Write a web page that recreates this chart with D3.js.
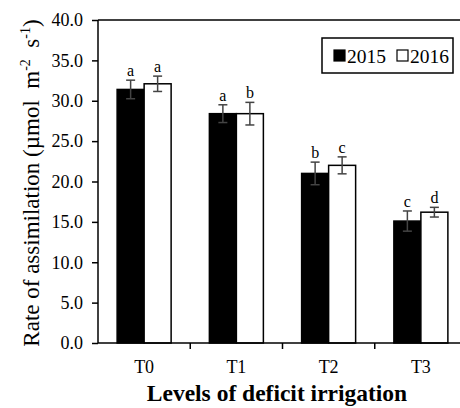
<!DOCTYPE html>
<html>
<head>
<meta charset="utf-8">
<script src="https://cdn.jsdelivr.net/npm/d3@7"></script>
<style>
  body { margin: 0; background: #fff; }
  svg text { font-family: "Liberation Serif", "Times New Roman", serif; fill: #000; }
</style>
</head>
<body>
<svg id="chart" width="460" height="408"></svg>
<script>
// data
const treatments = ["T0", "T1", "T2", "T3"];
const years = ["2015", "2016"];
const values2015 = [31.4, 28.4, 21.0, 15.1];
const values2016 = [32.1, 28.4, 22.0, 16.2];
const errors2015 = [1.15, 1.1, 1.4, 1.25];
const errors2016 = [0.95, 1.4, 1.05, 0.6];
const letters2015 = ["a", "a", "b", "c"];
const letters2016 = ["a", "b", "c", "d"];
const yTicks = [0, 5, 10, 15, 20, 25, 30, 35, 40];

const svg = d3.select("#chart");
const margin = { top: 20, left: 98 };
const plotW = 369, plotH = 323;

const g = svg.append("g").attr("transform", "translate(" + margin.left + "," + margin.top + ")");

const x = d3.scaleBand().domain(treatments).range([0, plotW]);
const xYear = d3.scaleBand().domain(years).range([0, 54]);
const y = d3.scaleLinear().domain([0, 40]).range([plotH, 0]);

// rows for each bar
const rows = [];
treatments.forEach(function (t, i) {
  rows.push({ t: t, year: "2015", v: values2015[i], e: errors2015[i], l: letters2015[i] });
  rows.push({ t: t, year: "2016", v: values2016[i], e: errors2016[i], l: letters2016[i] });
});
const barX = d => x(d.t) + (x.bandwidth() - 54) / 2 + xYear(d.year);

// frame: top line
g.append("line")
  .attr("x1", 0).attr("x2", plotW).attr("y1", 0).attr("y2", 0)
  .attr("stroke", "#000").attr("stroke-width", 1.5);

g.selectAll("rect.bar")
  .data(rows)
  .enter().append("rect")
  .attr("class", "bar")
  .attr("x", barX)
  .attr("y", d => y(d.v))
  .attr("width", xYear.bandwidth())
  .attr("height", d => plotH - y(d.v))
  .attr("fill", d => d.year === "2015" ? "#000" : "#fff")
  .attr("stroke", "#000")
  .attr("stroke-width", 1.5);

// error bars
const err = g.selectAll("g.err")
  .data(rows)
  .enter().append("g")
  .attr("class", "err")
  .attr("stroke", "#444")
  .attr("stroke-width", 1.5);
const cx = d => barX(d) + xYear.bandwidth() / 2;
err.append("line")
  .attr("x1", cx).attr("x2", cx)
  .attr("y1", d => y(d.v + d.e)).attr("y2", d => y(d.v - d.e));
err.append("line")
  .attr("x1", d => cx(d) - 4.5).attr("x2", d => cx(d) + 4.5)
  .attr("y1", d => y(d.v + d.e)).attr("y2", d => y(d.v + d.e));
err.append("line")
  .attr("x1", d => cx(d) - 4.5).attr("x2", d => cx(d) + 4.5)
  .attr("y1", d => y(d.v - d.e)).attr("y2", d => y(d.v - d.e));

// significance letters
g.selectAll("text.letter")
  .data(rows)
  .enter().append("text")
  .attr("class", "letter")
  .attr("x", cx)
  .attr("y", d => y(d.v + d.e) - 4)
  .attr("text-anchor", "middle")
  .style("font-size", "16px")
  .text(d => d.l);

// y axis
const yAxis = g.append("g")
  .call(d3.axisLeft(y).tickValues(yTicks).tickFormat(d3.format(".1f")).tickSize(6).tickPadding(9));
yAxis.select(".domain").attr("stroke", "#000").attr("stroke-width", 1.5).attr("d", "M0," + plotH + "V0");
yAxis.selectAll(".tick line").attr("stroke", "#000").attr("stroke-width", 1.5);
yAxis.selectAll(".tick text").style("font-size", "18px").style("font-family", "Liberation Serif, serif");

// x axis
const xAxis = g.append("g")
  .attr("transform", "translate(0," + plotH + ")")
  .call(d3.axisBottom(x).tickSize(0).tickPadding(17));
xAxis.select(".domain").attr("stroke", "#000").attr("stroke-width", 1.5).attr("d", "M0,0H" + plotW);
xAxis.selectAll(".tick text").style("font-size", "18px").style("font-family", "Liberation Serif, serif");
// separators between groups
xAxis.selectAll("line.sep")
  .data(treatments.slice(1))
  .enter().append("line")
  .attr("class", "sep")
  .attr("x1", d => x(d)).attr("x2", d => x(d))
  .attr("y1", 0).attr("y2", 6)
  .attr("stroke", "#000").attr("stroke-width", 1.5);

// axis titles
svg.append("text")
  .attr("x", 277).attr("y", 401)
  .attr("text-anchor", "middle")
  .style("font-size", "23.5px").style("font-weight", "bold")
  .text("Levels of deficit irrigation");

const yt = svg.append("text")
  .attr("transform", "translate(39,183) rotate(-90)")
  .attr("text-anchor", "middle")
  .style("font-size", "23px")
  .style("white-space", "pre");
yt.append("tspan").text("Rate of assimilation (µmol  m");
yt.append("tspan").attr("dy", -9).style("font-size", "14px").text("-2");
yt.append("tspan").attr("dy", 9).text("  s");
yt.append("tspan").attr("dy", -9).style("font-size", "14px").text("-1");
yt.append("tspan").attr("dy", 9).text(")");

// legend
const leg = svg.append("g").attr("transform", "translate(322,38)");
leg.append("rect")
  .attr("width", 131).attr("height", 35)
  .attr("fill", "#fff").attr("stroke", "#000").attr("stroke-width", 1.5);
const legItems = leg.selectAll("g.item")
  .data(years)
  .enter().append("g")
  .attr("class", "item")
  .attr("transform", (d, i) => "translate(" + (12 + i * 63) + ",0)");
legItems.append("rect")
  .attr("y", 12).attr("width", 11).attr("height", 11)
  .attr("fill", d => d === "2015" ? "#000" : "#fff")
  .attr("stroke", "#000").attr("stroke-width", 1.2);
legItems.append("text")
  .attr("x", 13).attr("y", 25)
  .style("font-size", "19.5px")
  .text(d => d);
</script>
</body>
</html>
